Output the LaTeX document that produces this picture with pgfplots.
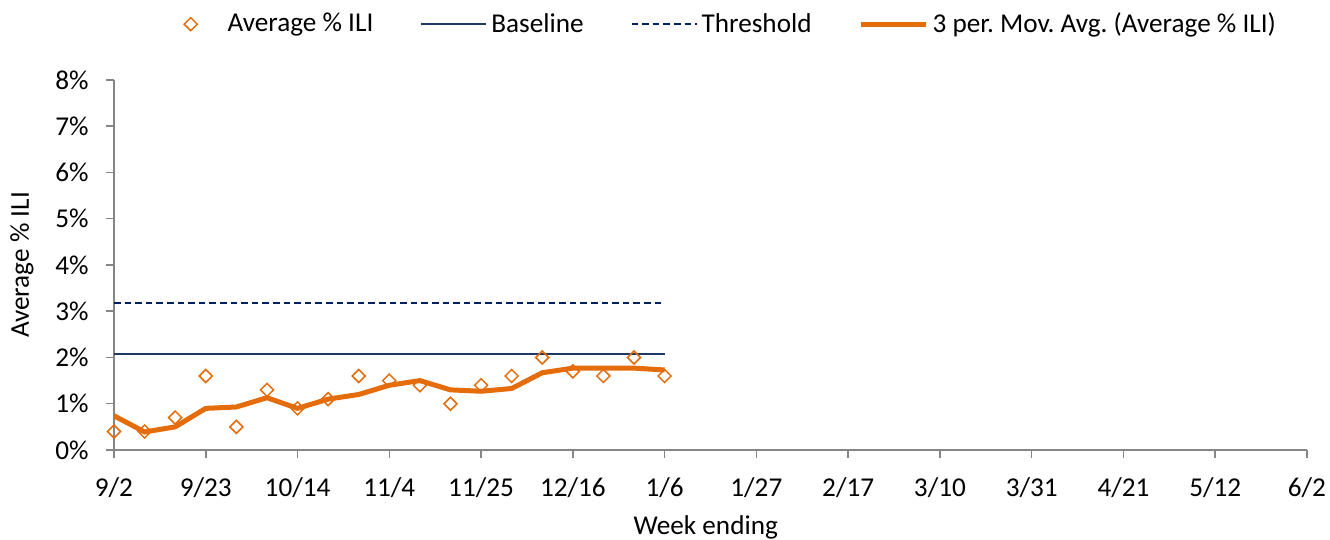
\documentclass[border=0pt]{standalone}
\usepackage{pgfplots}
\pgfplotsset{compat=1.18}
\usepackage{fontspec}
\setmainfont{Carlito}
\frenchspacing
\definecolor{ili}{HTML}{E46C0A}
\definecolor{base}{HTML}{203864}
\definecolor{thr}{HTML}{002060}
\definecolor{axgray}{HTML}{868686}
\begin{document}
\begin{tikzpicture}[font=\fontsize{13.6}{16}\selectfont]
\begin{axis}[
  scale only axis, width=596.5pt, height=185pt,
  xmin=0, xmax=39, ymin=0, ymax=8,
  axis x line*=bottom, axis y line*=left,
  axis line style={axgray, line width=0.75pt, -},
  tick style={axgray, line width=0.75pt},
  tick align=outside, major tick length=4pt,
  xtick={0,3,...,39},
  xticklabels={9/2,9/23,10/14,11/4,11/25,12/16,1/6,1/27,2/17,3/10,3/31,4/21,5/12,6/2},
  ytick={0,1,2,3,4,5,6,7,8},
  yticklabels={0\%,1\%,2\%,3\%,4\%,5\%,6\%,7\%,8\%},
  xticklabel style={anchor=north, inner sep=0pt, yshift=-9.5pt},
  yticklabel style={anchor=east, inner sep=0pt, xshift=-8.5pt},
  xlabel={Week ending}, ylabel={Average \% ILI},
  every axis x label/.style={at={(axis description cs:0.496,0)}, anchor=center, yshift=-38.5pt},
  every axis y label/.style={at={([xshift=-46pt]axis description cs:0,0.5)}, anchor=center, rotate=90},
  legend columns=4,
  legend style={draw=none, fill=none, at={(axis description cs:0.507,1.151)}, anchor=center,
    /tikz/every even column/.append style={column sep=21.5pt}},
  legend image code/.code={\path (0pt,0pt) (32.5pt,0pt);\draw[mark repeat=2,mark phase=2,#1] plot coordinates {(0pt,0pt) (16.25pt,0pt) (32.5pt,0pt)};},
]
\addplot[only marks, mark=square, mark size=2.3pt, mark options={ili, line width=0.75pt, rotate=45, fill=white}]
  coordinates {(0,0.4)(1,0.4)(2,0.7)(3,1.6)(4,0.5)(5,1.3)(6,0.9)(7,1.1)(8,1.6)(9,1.5)
  (10,1.4)(11,1.0)(12,1.4)(13,1.6)(14,2.0)(15,1.7)(16,1.6)(17,2.0)(18,1.6)};
\addlegendentry{Average \% ILI}
\addplot[base, line width=1pt] coordinates {(0,2.07)(18,2.07)};
\addlegendentry{Baseline}
\addplot[thr, line width=1pt, dash pattern=on 3.3pt off 2pt] coordinates {(0,3.17)(18,3.17)};
\addlegendentry{Threshold}
\addplot[ili, line width=2.5pt] coordinates {(0,0.74)(1,0.39)(2,0.5)(3,0.9)(4,0.93)(5,1.13)(6,0.9)(7,1.1)(8,1.2)(9,1.4)
  (10,1.5)(11,1.3)(12,1.27)(13,1.33)(14,1.67)(15,1.77)(16,1.77)(17,1.77)(18,1.73)};
\addlegendentry{3 per. Mov. Avg. (Average \% ILI)}
\end{axis}
\pgfresetboundingbox
\path (-57pt,-45pt) rectangle (608pt,225pt);
\end{tikzpicture}
\end{document}
